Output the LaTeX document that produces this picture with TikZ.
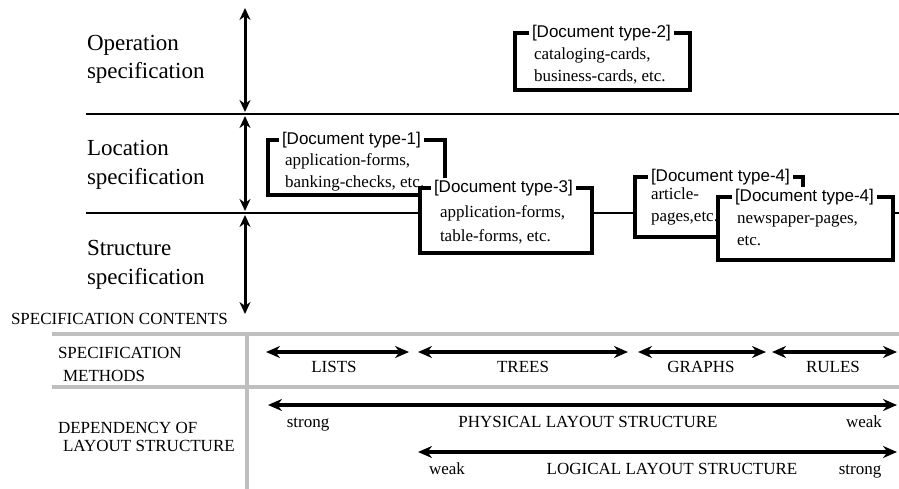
\documentclass[tikz,border=0pt]{standalone}
\usepackage{fontspec}
\setmainfont{Liberation Serif}
\newfontfamily\titlefont{Liberation Sans}
\usetikzlibrary{arrows.meta}

\begin{document}
\begin{tikzpicture}[x=1pt,y=-1pt,
  every node/.style={inner sep=0pt, outer sep=0pt},
  level/.style={font=\fontsize{23}{28}\selectfont, anchor=base west},
  tlabel/.style={font=\fontsize{17}{20}\selectfont, anchor=base},
  tlabelw/.style={font=\fontsize{17}{20}\selectfont, anchor=base west},
  rule/.style={line width=1.6pt},
  grayrule/.style={line width=3.8pt, gray!50},
  varrow/.style={line width=3pt, {Stealth[length=12pt,width=11pt]}-{Stealth[length=12pt,width=11pt]}},
  harrow/.style={line width=3.2pt, {Stealth[length=14pt,width=12pt]}-{Stealth[length=14pt,width=12pt]}},
  docbox/.style={draw, line width=3.4pt, fill=white, anchor=north west, rectangle},
  doctitle/.style={font=\titlefont\fontsize{17}{20}\selectfont, fill=white, inner xsep=3pt, inner ysep=2pt, anchor=west},
  docline/.style={font=\fontsize{17}{20}\selectfont, anchor=base west},
]
\useasboundingbox (0,0) rectangle (899,489);

% ---- level separators and ranges ----
\draw[rule] (86,114) -- (899,114);
\draw[rule] (86,213) -- (899,213);
\coordinate (v0) at (245,8);
\coordinate (v1) at (245,112);
\coordinate (v2) at (245,116);
\coordinate (v3) at (245,211);
\coordinate (v4) at (245,215);
\coordinate (v5) at (245,314);
\draw[varrow] (v0) -- (v1);
\draw[varrow] (v2) -- (v3);
\draw[varrow] (v4) -- (v5);

\node[level] (op1) at (87,51) {Operation};
\node[level] (op2) at (87,79) {specification};
\node[level] (lo1) at (87,156) {Location};
\node[level] (lo2) at (87,185) {specification};
\node[level] (st1) at (87,255) {Structure};
\node[level] (st2) at (87,284) {specification};

% ---- document type boxes ----
% type-2
\node[docbox, minimum width=175pt, minimum height=57pt] (b2) at (515,33) {};
\node[doctitle] (t2) at (529,33) {[Document type-2]};
\node[docline] (b2a) at (534,60) {cataloging-cards,};
\node[docline] (b2b) at (534,82) {business-cards, etc.};

% type-1
\node[docbox, minimum width=177pt, minimum height=55pt] (b1) at (268,140) {};
\node[doctitle] (t1) at (279,140) {[Document type-1]};
\node[docline] (b1a) at (285,166) {application-forms,};
\node[docline] (b1b) at (285,188) {banking-checks, etc.};

% type-3
\node[docbox, minimum width=172pt, minimum height=65pt] (b3) at (420,188) {};
\node[doctitle] (t3) at (431,188) {[Document type-3]};
\node[docline] (b3a) at (440,218) {application-forms,};
\node[docline] (b3b) at (440,241) {table-forms, etc.};

% type-4 (article pages)
\node[docbox, minimum width=168pt, minimum height=60pt] (b4) at (635,177) {};
\node[doctitle] (t4) at (648,177) {[Document type-4]};
\node[docline] (b4a) at (651,200) {article-};
\node[docline] (b4b) at (651,222) {pages,etc.};

% type-4 (newspaper pages)
\node[docbox, minimum width=175pt, minimum height=63pt] (b5) at (718,197) {};
\node[doctitle] (t5) at (732,197) {[Document type-4]};
\node[docline] (b5a) at (737,223) {newspaper-pages,};
\node[docline] (b5b) at (737,245) {etc.};

% ---- lower table ----
\node[tlabelw] (sc) at (11,324) {SPECIFICATION CONTENTS};
\draw[grayrule] (52,334) -- (899,334);
\draw[grayrule] (52,387) -- (899,387);
\draw[grayrule] (247,334) -- (247,489);

\node[tlabelw] (sm1) at (58,358) {SPECIFICATION};
\node[tlabelw] (sm2) at (63,381) {METHODS};
\node[tlabelw] (dl1) at (58,433) {DEPENDENCY OF};
\node[tlabelw] (dl2) at (63,451) {LAYOUT STRUCTURE};

% specification methods
\coordinate (m0) at (266,352);
\coordinate (m1) at (409,352);
\coordinate (m2) at (418,352);
\coordinate (m3) at (628,352);
\coordinate (m4) at (638,352);
\coordinate (m5) at (766,352);
\coordinate (m6) at (772,352);
\coordinate (m7) at (897,352);
\draw[harrow] (m0) -- (m1);
\draw[harrow] (m2) -- (m3);
\draw[harrow] (m4) -- (m5);
\draw[harrow] (m6) -- (m7);
\node[tlabel] (lists) at (334,372) {LISTS};
\node[tlabel] (trees) at (523,372) {TREES};
\node[tlabel] (graphs) at (701,372) {GRAPHS};
\node[tlabel] (rules) at (833,372) {RULES};

% dependency of layout structure
\coordinate (p0) at (268,405);
\coordinate (p1) at (897,405);
\draw[harrow] (p0) -- (p1);
\node[tlabel] (pstrong) at (308,427) {strong};
\node[tlabel] (phys) at (588,427) {PHYSICAL LAYOUT STRUCTURE};
\node[tlabel] (pweak) at (864,427) {weak};

\coordinate (l0) at (418,452);
\coordinate (l1) at (897,452);
\draw[harrow] (l0) -- (l1);
\node[tlabel] (lweak) at (447,474) {weak};
\node[tlabel] (logi) at (672,474) {LOGICAL LAYOUT STRUCTURE};
\node[tlabel] (lstrong) at (860,474) {strong};
\end{tikzpicture}
\end{document}
